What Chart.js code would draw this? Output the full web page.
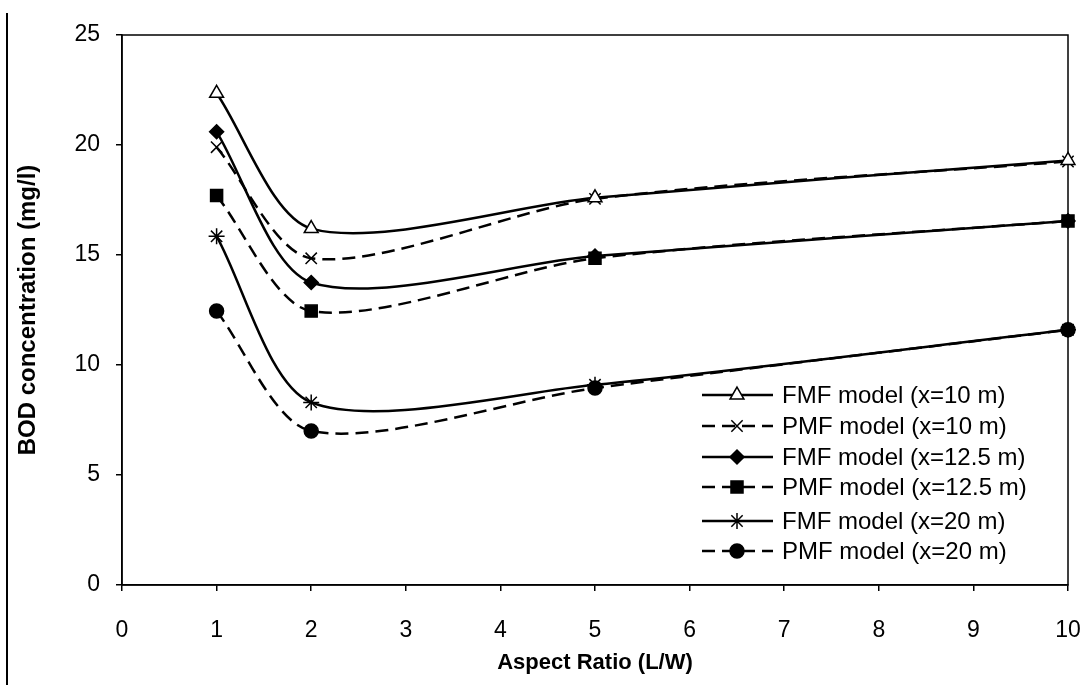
<!DOCTYPE html>
<html>
<head>
<meta charset="utf-8">
<script src="https://cdn.jsdelivr.net/npm/chart.js@4.4.1/dist/chart.umd.min.js"></script>
<style>
  html, body { margin: 0; padding: 0; background: #fff; }
  #wrap { width: 1087px; height: 685px; }
</style>
</head>
<body>
<div id="wrap"><canvas id="grafica"></canvas></div>
<script>
// ── Datos ────────────────────────────────────────────────
const aspectRatio = [1, 2, 5, 10];
const fmf10  = [22.35, 16.2, 17.6, 19.3];
const pmf10  = [19.9, 14.85, 17.55, 19.25];
const fmf125 = [20.6, 13.75, 14.95, 16.55];
const pmf125 = [17.7, 12.45, 14.85, 16.55];
const fmf20  = [15.85, 8.3, 9.1, 11.6];
const pmf20  = [12.45, 7.0, 8.95, 11.6];
const etiquetas = [
  "FMF model (x=10 m)", "PMF model (x=10 m)",
  "FMF model (x=12.5 m)", "PMF model (x=12.5 m)",
  "FMF model (x=20 m)", "PMF model (x=20 m)"
];

const FUENTE = "'Liberation Sans', Arial, sans-serif";
const puntos = (ys) => ys.map((y, i) => ({ x: aspectRatio[i], y }));

function serie(label, ys, estilo, radio, relleno, discontinua) {
  return {
    label,
    data: puntos(ys),
    borderColor: "#000",
    borderWidth: 2.5,
    borderDash: discontinua ? [13, 7] : [],
    tension: 0.28,
    pointStyle: estilo,
    pointRadius: radio,
    pointBackgroundColor: relleno,
    pointBorderColor: "#000",
    pointBorderWidth: 1.5,
    clip: false,
  };
}

const datasets = [
  serie(etiquetas[0], fmf10,  "triangle", 8, "#fff", false),
  serie(etiquetas[1], pmf10,  "crossRot", 8, "#000", true),
  serie(etiquetas[2], fmf125, "rectRot",  7, "#000", false),
  serie(etiquetas[3], pmf125, "rect",     8.5, "#000", true),
  serie(etiquetas[4], fmf20,  "star",     8, "#000", false),
  serie(etiquetas[5], pmf20,  "circle",   7, "#000", true),
];

// ── Marco, leyenda y borde del escaneo ───────────────────
const extras = {
  id: "extras",
  beforeDatasetsDraw(chart) {
    const { ctx, chartArea: a } = chart;
    ctx.save();
    ctx.strokeStyle = "#000";
    ctx.lineWidth = 1.5;
    ctx.strokeRect(a.left, a.top, a.right - a.left, a.bottom - a.top);
    ctx.restore();
  },
  afterDraw(chart) {
    const { ctx } = chart;
    ctx.save();
    // borde vertical del recorte
    ctx.strokeStyle = "#000";
    ctx.lineWidth = 2;
    ctx.beginPath();
    ctx.moveTo(7, 13);
    ctx.lineTo(7, 685);
    ctx.stroke();

    // leyenda
    const x0 = 702, x1 = 773, xm = 737, xt = 782;
    const filas = [395, 426, 457, 487, 521, 551];
    ctx.font = "24px " + FUENTE;
    ctx.textBaseline = "middle";
    chart.data.datasets.forEach((ds, i) => {
      const y = filas[i];
      ctx.strokeStyle = "#000";
      ctx.lineWidth = 2.5;
      ctx.setLineDash(ds.borderDash);
      ctx.beginPath();
      ctx.moveTo(x0, y);
      ctx.lineTo(x1, y);
      ctx.stroke();
      ctx.setLineDash([]);
      ctx.fillStyle = ds.pointBackgroundColor;
      ctx.strokeStyle = "#000";
      ctx.lineWidth = 1.5;
      Chart.helpers.drawPoint(ctx, {
        pointStyle: ds.pointStyle, radius: ds.pointRadius,
        borderWidth: 1.5, rotation: 0
      }, xm, y);
      ctx.fillStyle = "#000";
      ctx.fillText(ds.label, xt, y + 1);
    });
    ctx.restore();
  }
};

new Chart(document.getElementById("grafica"), {
  type: "line",
  data: { datasets },
  plugins: [extras],
  options: {
    responsive: true,
    maintainAspectRatio: false,
    animation: false,
    layout: { padding: { left: 10, right: 19, top: 35, bottom: 5 } },
    plugins: { legend: { display: false }, tooltip: { enabled: false } },
    scales: {
      x: {
        type: "linear",
        min: 0, max: 10,
        afterFit: (s) => { s.height = 685 - 585 - 5; s.paddingLeft = 0; s.paddingRight = 0; },
        ticks: { stepSize: 1, color: "#000", padding: 26, font: { family: FUENTE, size: 23 } },
        grid: { drawOnChartArea: false, drawTicks: true, tickLength: 6, color: "#000", lineWidth: 1.5 },
        border: { display: true, color: "#000", width: 1.5 },
        title: {
          display: true, text: "Aspect Ratio (L/W)", color: "#000",
          padding: { top: 4, bottom: 4 },
          font: { family: FUENTE, size: 22, weight: "bold" }
        }
      },
      y: {
        min: 0, max: 25,
        afterFit: (s) => { s.width = 122 - 10; s.paddingTop = 0; s.paddingBottom = 0; },
        ticks: { stepSize: 5, color: "#000", padding: 16, font: { family: FUENTE, size: 23 } },
        grid: { drawOnChartArea: false, drawTicks: true, tickLength: 6, color: "#000", lineWidth: 1.5 },
        border: { display: true, color: "#000", width: 1.5 },
        title: {
          display: true, text: "BOD concentration (mg/l)", color: "#000",
          padding: { top: 4, bottom: 4 },
          font: { family: FUENTE, size: 24, weight: "bold" }
        }
      }
    }
  }
});
</script>
</body>
</html>
